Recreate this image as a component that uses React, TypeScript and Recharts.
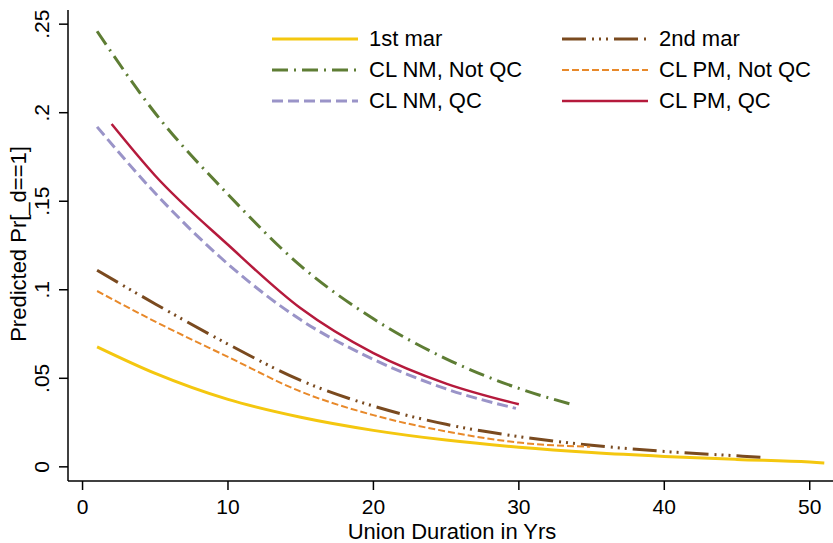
import React from 'react';
import { LineChart, Line, XAxis, YAxis, Label } from 'recharts';

// Predicted Pr[_d==1] by union duration
const firstMarX = [1, 5, 10, 15, 20, 25, 30, 35, 40, 45, 50, 51];
const firstMarY = [0.0678, 0.0528, 0.0381, 0.028, 0.0206, 0.0151, 0.0111, 0.0081, 0.0059, 0.0042, 0.0027, 0.0022];

const secondMarX = [1, 5, 10, 15, 20, 25, 30, 35, 40, 45, 47];
const secondMarY = [0.111, 0.092, 0.0693, 0.0488, 0.0343, 0.024, 0.0171, 0.0122, 0.0087, 0.0062, 0.0052];

const nmNotQcX = [1, 5, 10, 15, 20, 25, 30, 33.6];
const nmNotQcY = [0.246, 0.1997, 0.1539, 0.1135, 0.0836, 0.061, 0.0443, 0.0353];

const pmNotQcX = [1, 5, 10, 15, 20, 25, 30, 34.9];
const pmNotQcY = [0.0993, 0.082, 0.0621, 0.0425, 0.0292, 0.02, 0.0137, 0.0113];

const nmQcX = [1, 5, 10, 15, 20, 25, 29.8];
const nmQcY = [0.192, 0.1545, 0.1145, 0.083, 0.0607, 0.044, 0.033];

const pmQcX = [2, 5, 10, 15, 20, 25, 30];
const pmQcY = [0.1936, 0.1644, 0.1254, 0.0895, 0.0642, 0.047, 0.0353];

const xTicks = [0, 10, 20, 30, 40, 50];
const yTicks = [0, 0.05, 0.1, 0.15, 0.2, 0.25];
const yTickLabels = ['0', '.05', '.1', '.15', '.2', '.25'];

const FONT = '"Liberation Sans", Arial, sans-serif';

const toPoints = (xs: number[], ys: number[]) => xs.map((x, i) => ({ x, y: ys[i] }));

interface Series {
  name: string;
  data: { x: number; y: number }[];
  color: string;
  width: number;
  dash?: string;
}

const series: Series[] = [
  { name: '1st mar', data: toPoints(firstMarX, firstMarY), color: '#F4C70F', width: 3 },
  { name: '2nd mar', data: toPoints(secondMarX, secondMarY), color: '#7A4A1F', width: 3, dash: '24 6 2 5 2 5 2 6' },
  { name: 'CL NM, Not QC', data: toPoints(nmNotQcX, nmNotQcY), color: '#5E7D34', width: 3, dash: '16 6 2 6' },
  { name: 'CL PM, Not QC', data: toPoints(pmNotQcX, pmNotQcY), color: '#E8892A', width: 2, dash: '7 3' },
  { name: 'CL NM, QC', data: toPoints(nmQcX, nmQcY), color: '#9A94C8', width: 3, dash: '11 5' },
  { name: 'CL PM, QC', data: toPoints(pmQcX, pmQcY), color: '#B51A3C', width: 2.5 },
];

const XTick = (props: any) => {
  const { x, payload } = props;
  return (
    <text x={x} y={506.5} textAnchor="middle" dominantBaseline="central" fontSize={21} fontFamily={FONT} fill="#000">
      {payload.value}
    </text>
  );
};

const YTick = (props: any) => {
  const { y, payload } = props;
  const idx = yTicks.indexOf(payload.value);
  return (
    <text
      x={42}
      y={y}
      transform={`rotate(-90, 42, ${y})`}
      textAnchor="middle"
      dominantBaseline="central"
      fontSize={21}
      fontFamily={FONT}
      fill="#000"
    >
      {idx >= 0 ? yTickLabels[idx] : payload.value}
    </text>
  );
};

function ChartLegend() {
  return (
    <div
      style={{
        position: 'absolute',
        left: 272,
        top: 23,
        display: 'grid',
        gridTemplateColumns: '290px 270px',
        gridAutoRows: '31px',
        fontFamily: FONT,
        fontSize: 22,
        color: '#000',
      }}
    >
      {series.map((s) => (
        <div key={s.name} style={{ display: 'flex', alignItems: 'center', height: 31 }}>
          <svg width={86} height={10} style={{ marginRight: 11 }}>
            <line x1={0} y1={5} x2={86} y2={5} stroke={s.color} strokeWidth={s.width} strokeDasharray={s.dash} />
          </svg>
          <span>{s.name}</span>
        </div>
      ))}
    </div>
  );
}

export default function App() {
  return (
    <div style={{ position: 'absolute', left: 0, top: 0, width: 833, height: 543, background: '#fff' }}>
      <LineChart width={833} height={543} margin={{ top: 10, right: 0, bottom: 0, left: 8 }}>
        <XAxis
          type="number"
          dataKey="x"
          domain={[-1, 51.6]}
          ticks={xTicks}
          allowDataOverflow
          height={62}
          tickSize={9}
          tick={XTick}
          axisLine={{ stroke: '#000', strokeWidth: 1.5 }}
          tickLine={{ stroke: '#000', strokeWidth: 1.5 }}
        >
          <Label
            content={() => (
              <text x={452} y={531} textAnchor="middle" dominantBaseline="central" fontSize={22} fontFamily={FONT} fill="#000">
                Union Duration in Yrs
              </text>
            )}
          />
        </XAxis>
        <YAxis
          type="number"
          dataKey="y"
          domain={[-0.008, 0.258]}
          ticks={yTicks}
          allowDataOverflow
          width={60}
          tickSize={9}
          tick={YTick}
          axisLine={{ stroke: '#000', strokeWidth: 1.5 }}
          tickLine={{ stroke: '#000', strokeWidth: 1.5 }}
        >
          <Label
            content={() => (
              <text
                x={18}
                y={244}
                transform="rotate(-90, 18, 244)"
                textAnchor="middle"
                dominantBaseline="central"
                fontSize={22}
                fontFamily={FONT}
                fill="#000"
              >
                Predicted Pr[_d==1]
              </text>
            )}
          />
        </YAxis>
        {series.map((s) => (
          <Line
            key={s.name}
            data={s.data}
            dataKey="y"
            name={s.name}
            type="monotone"
            stroke={s.color}
            strokeWidth={s.width}
            strokeDasharray={s.dash}
            dot={false}
            activeDot={false}
            isAnimationActive={false}
          />
        ))}
      </LineChart>
      <ChartLegend />
    </div>
  );
}
